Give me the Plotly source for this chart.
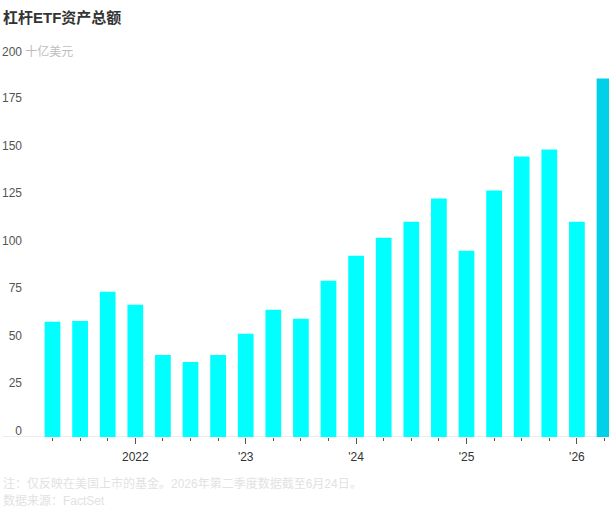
import plotly.graph_objects as go

quarters = ["2021Q2", "2021Q3", "2021Q4", "2022Q1", "2022Q2", "2022Q3", "2022Q4",
            "2023Q1", "2023Q2", "2023Q3", "2023Q4", "2024Q1", "2024Q2", "2024Q3",
            "2024Q4", "2025Q1", "2025Q2", "2025Q3", "2025Q4", "2026Q1", "2026Q2"]
assets = [60.6, 61.1, 76.4, 69.6, 43.2, 39.5, 43.2, 54.3, 67.0, 62.2, 82.2,
          95.4, 104.9, 113.3, 125.5, 98.0, 129.7, 147.6, 151.3, 113.3, 188.7]
year_quarters = ["2022Q1", "2023Q1", "2024Q1", "2025Q1", "2026Q1"]
year_labels = ["2022", "'23", "'24", "'25", "'26"]
y_ticks = [0, 25, 50, 75, 100, 125, 150, 175]

title = "杠杆ETF资产总额"
unit_label = "200 <span style='color:#bdbdbd'>十亿美元</span>"
note = "注：仅反映在美国上市的基金。2026年第二季度数据截至6月24日。"
source = "数据来源：FactSet"

xs = list(range(len(quarters)))
colors = ["#00FFFF"] * (len(quarters) - 1) + ["#00D1E8"]

FONT = "Liberation Sans, Arial, Noto Sans CJK SC, sans-serif"

W, H = 609, 507
ml, mr, mt, mb = 28, 0, 57, 70
pw = W - ml - mr
ph = H - mt - mb

fig = go.Figure()
fig.add_trace(go.Bar(
    x=xs, y=assets, marker=dict(color=colors, line=dict(width=0)),
    customdata=quarters, hovertemplate="%{customdata}: %{y}<extra></extra>",
))

# x range so bars land at the right pixels
x_left = (ml - 52.5) / 27.6
x_right = (W - 52.5) / 27.6

fig.update_layout(
    width=W, height=H,
    margin=dict(l=ml, r=mr, t=mt, b=mb),
    paper_bgcolor="white", plot_bgcolor="white",
    font=dict(family=FONT, color="#555", size=12),
    showlegend=False,
    bargap=0.43,
    title=dict(text="<b>" + title + "</b>", xref="container", x=3 / W, xanchor="left",
               yref="container", y=1 - 18 / H, yanchor="middle",
               font=dict(size=15, color="#333", family=FONT)),
    xaxis=dict(
        range=[x_left, x_right], showgrid=False, zeroline=False, showline=False,
        tickmode="array", tickvals=[quarters.index(q) for q in year_quarters],
        ticktext=year_labels, ticks="outside", ticklen=6, tickwidth=1, tickcolor="#555",
        tickfont=dict(size=12, color="#333"), ticklabelstandoff=3,
        minor=dict(tickmode="array", tickvals=xs, ticks="outside", ticklen=3,
                   tickwidth=1, tickcolor="#555", showgrid=False),
    ),
    yaxis=dict(
        range=[0, 200], showgrid=False, zeroline=False, showline=False,
        tickmode="array", tickvals=y_ticks, ticktext=[str(v) for v in y_ticks],
        ticklabelposition="outside top", tickfont=dict(size=12, color="#555"),
        ticklabelstandoff=5, ticklabelshift=2,
    ),
)

fig.add_shape(type="line", xref="paper", yref="y",
              x0=(3 - ml) / pw, x1=1, y0=0, y1=0,
              line=dict(color="#ececec", width=2), layer="below")

fig.add_annotation(text=unit_label, xref="paper", yref="y",
                   x=(3 - ml) / pw, y=200, xanchor="left", yanchor="middle",
                   xshift=-3, yshift=6,
                   showarrow=False, font=dict(size=12, color="#555", family=FONT))

fig.add_annotation(text=note, xref="paper", yref="paper",
                   x=(3 - ml) / pw, y=(mt + ph - 483) / ph, xanchor="left", yanchor="middle",
                   xshift=-2,
                   showarrow=False, font=dict(size=12, color="#e2e2e2", family=FONT))
fig.add_annotation(text=source, xref="paper", yref="paper",
                   x=(3 - ml) / pw, y=(mt + ph - 500) / ph, xanchor="left", yanchor="middle",
                   xshift=-2,
                   showarrow=False, font=dict(size=12, color="#e2e2e2", family=FONT))

fig.write_html("out.html")
